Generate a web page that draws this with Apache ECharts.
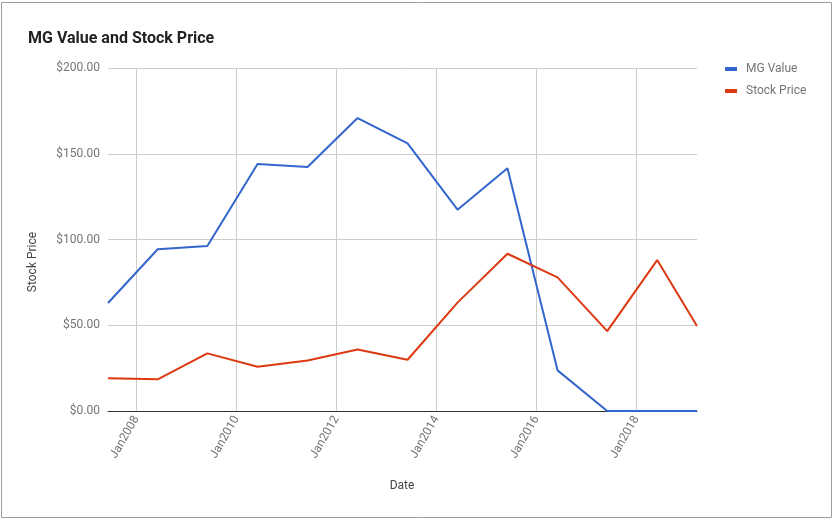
<!DOCTYPE html>
<html>
<head>
<meta charset="utf-8">
<script src="https://cdn.jsdelivr.net/npm/echarts@6/dist/echarts.min.js"></script>
<style>
html,body{margin:0;padding:0;background:#fff;}
#chart{width:834px;height:520px;}
</style>
</head>
<body>
<div id="chart"></div>
<script>
var dates = ['2007-06-06','2008-06-03','2009-06-01','2010-06-03','2011-06-03','2012-06-03','2013-06-03','2014-06-03','2015-06-03','2016-06-03','2017-06-01','2018-06-01','2019-03-19'];
var mgValue = [63.0, 94.3, 96.2, 144.0, 142.3, 170.8, 156.0, 117.4, 141.5, 23.7, 0, 0, 0];
var stockPrice = [19.1, 18.5, 33.6, 25.8, 29.5, 35.9, 29.9, 63.2, 91.7, 77.9, 46.6, 88.0, 49.6];
var xTickDates = ['2008-01-01','2010-01-01','2012-01-01','2014-01-01','2016-01-01','2018-01-01'];
var yTicks = [0, 50, 100, 150, 200];

function ts(s){ return new Date(s + 'T00:00:00Z').getTime(); }
function pairs(vals){ return dates.map(function(d,i){ return [ts(d), vals[i]]; }); }
var tickTs = xTickDates.map(ts);
var font = 'Roboto, Arial, sans-serif';

var chart = echarts.init(document.getElementById('chart'), null, {renderer:'canvas'});
chart.setOption({
  animation: false,
  backgroundColor: '#fff',
  title: {
    text: 'MG Value and Stock Price',
    left: 23, top: 26,
    textStyle: {fontFamily: font, fontSize: 16, fontWeight: 'bold', color: '#222'}
  },
  legend: {
    orient: 'vertical',
    left: 725, top: 62, padding: 0,
    itemWidth: 12, itemHeight: 4, itemGap: 8,
    icon: 'rect',
    textStyle: {fontFamily: font, fontSize: 12, color: '#757575', lineHeight: 14, padding: [0,0,0,4]},
    data: ['MG Value', 'Stock Price']
  },
  grid: {left: 108, right: 137, top: 68, bottom: 109, containLabel: false},
  xAxis: {
    type: 'value',
    min: ts(dates[0]),
    max: ts(dates[dates.length-1]),
    axisLine: {show: true, onZero: false, lineStyle: {color: '#333', width: 1}},
    axisTick: {show: false, customValues: tickTs},
    splitLine: {show: true, lineStyle: {color: '#cccccc', width: 1}},
    axisLabel: {
      customValues: tickTs,
      rotate: 60,
      margin: 6,
      showMinLabel: true, showMaxLabel: true,
      fontFamily: font, fontSize: 12, color: '#757575',
      formatter: function(v){ return 'Jan' + new Date(v).getUTCFullYear(); }
    }
  },
  yAxis: {
    type: 'value',
    min: yTicks[0], max: yTicks[yTicks.length-1], interval: 50,
    axisLine: {show: false},
    axisTick: {show: false},
    splitLine: {show: true, lineStyle: {color: '#cccccc', width: 1}},
    axisLabel: {
      margin: 8,
      fontFamily: font, fontSize: 12, color: '#757575',
      formatter: function(v){ return '$' + v.toFixed(2); }
    }
  },
  series: [
    {name: 'MG Value', type: 'line', data: pairs(mgValue), showSymbol: false, symbol: 'none',
     itemStyle: {color: '#3366cc'}, lineStyle: {color: '#3366cc', width: 2}, z: 3},
    {name: 'Stock Price', type: 'line', data: pairs(stockPrice), showSymbol: false, symbol: 'none',
     itemStyle: {color: '#dc3912'}, lineStyle: {color: '#dc3912', width: 2}, z: 3}
  ],
  graphic: [
    {type: 'rect', shape: {x: 1.5, y: 2.5, width: 830, height: 515}, style: {fill: 'none', stroke: '#9e9e9e', lineWidth: 1}, z: -1, silent: true},
    {type: 'text', x: 33, y: 262, rotation: Math.PI/2,
     style: {text: 'Stock Price', font: '12px ' + font, fill: '#444', textAlign: 'center', textVerticalAlign: 'middle'}},
    {type: 'text', x: 402, y: 486,
     style: {text: 'Date', font: '12px ' + font, fill: '#444', textAlign: 'center', textVerticalAlign: 'middle'}}
  ]
});
</script>
</body>
</html>
